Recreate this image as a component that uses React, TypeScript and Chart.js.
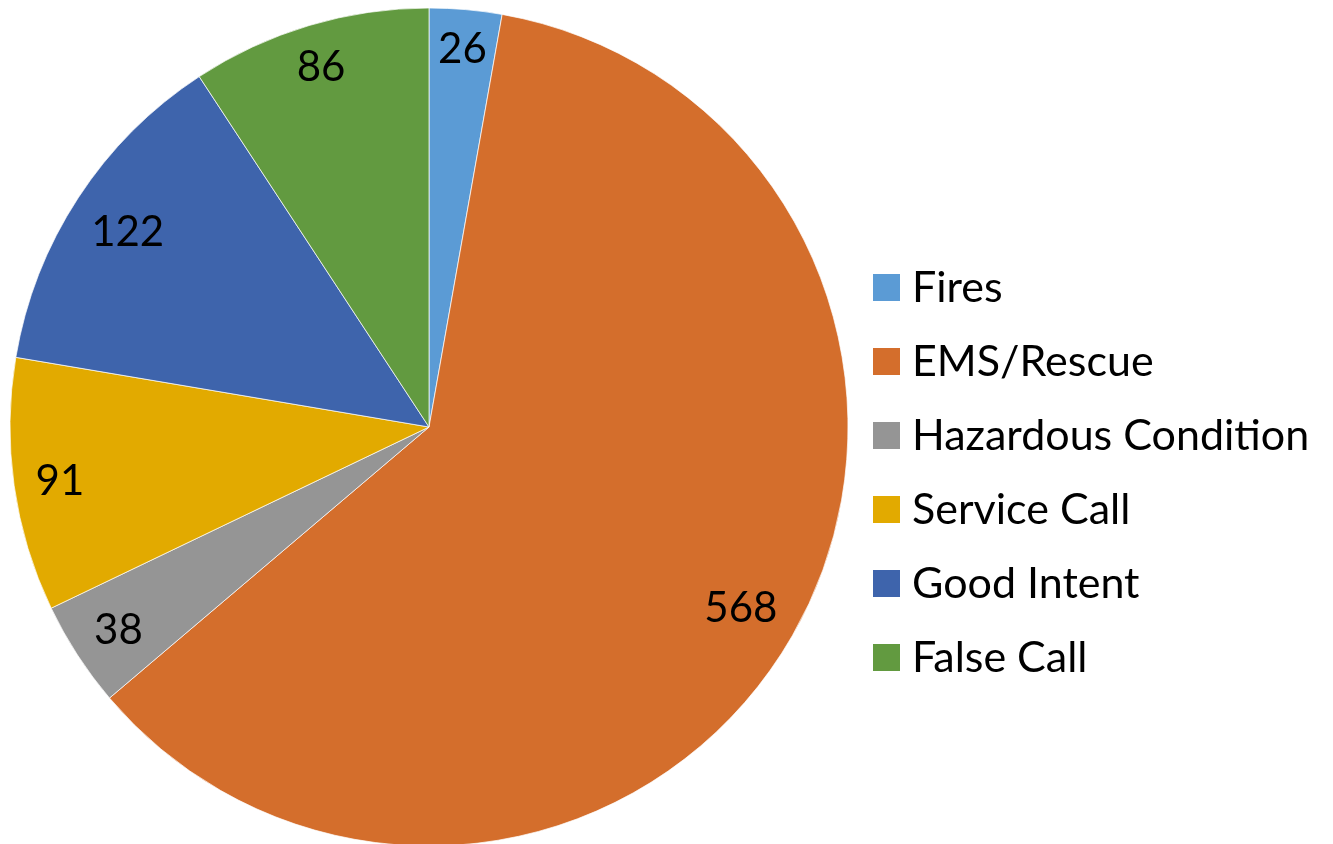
import React, { useEffect, useRef } from "react";
import { Chart, registerables } from "chart.js";

Chart.register(...registerables);

const categories = ["Fires", "EMS/Rescue", "Hazardous Condition", "Service Call", "Good Intent", "False Call"];
const values = [26, 568, 38, 91, 122, 86];
const colors = ["#5B9BD5", "#D46E2C", "#959595", "#E2AA00", "#3E64AC", "#629A40"];

const FONT = "Lato, 'Noto Sans', sans-serif";

const labelPlugin = {
  id: "sliceLabels",
  afterDatasetsDraw(chart: any) {
    const ctx = chart.ctx;
    const meta = chart.getDatasetMeta(0);
    ctx.save();
    ctx.font = `42px ${FONT}`;
    ctx.fillStyle = "#000000";
    ctx.textAlign = "center";
    ctx.textBaseline = "alphabetic";
    meta.data.forEach((arc: any, i: number) => {
      const { x, y, startAngle, endAngle, outerRadius } = arc.getProps(["x", "y", "startAngle", "endAngle", "outerRadius"], true);
      const mid = (startAngle + endAngle) / 2;
      const text = String(values[i]);
      const m = ctx.measureText(text);
      const w = m.width;
      const h = m.actualBoundingBoxAscent;
      const c = Math.cos(mid);
      const s = Math.sin(mid);
      const extent = Math.abs(c) * w / 2 + Math.abs(s) * h / 2;
      const d = outerRadius - 20 - extent;
      const cx = x + c * d;
      const cy = y + s * d;
      ctx.fillText(text, cx, cy + h / 2);
    });
    ctx.restore();
  },
};

const legendPlugin = {
  id: "customLegend",
  afterDraw(chart: any) {
    const ctx = chart.ctx;
    ctx.save();
    ctx.font = `43px ${FONT}`;
    ctx.textAlign = "left";
    ctx.textBaseline = "alphabetic";
    categories.forEach((name, i) => {
      const top = 274 + 74 * i;
      ctx.fillStyle = colors[i];
      ctx.fillRect(873, top, 27, 27);
      ctx.fillStyle = "#000000";
      ctx.fillText(name, 912, top + 28);
    });
    ctx.restore();
  },
};

export default function App() {
  const ref = useRef<HTMLCanvasElement>(null);
  useEffect(() => {
    if (!ref.current) return;
    const chart = new Chart(ref.current, {
      type: "pie",
      data: {
        labels: categories,
        datasets: [
          {
            data: values,
            backgroundColor: colors,
            borderColor: "rgba(255,255,255,0.7)",
            borderWidth: 1,
            radius: 419,
            clip: false,
          } as any,
        ],
      },
      options: {
        responsive: false,
        animation: false,
        layout: { padding: { left: 0, right: 475, top: 10, bottom: 0 } },
        plugins: {
          legend: { display: false },
          tooltip: { enabled: false },
        },
      },
      plugins: [labelPlugin, legendPlugin],
    });
    return () => chart.destroy();
  }, []);
  return (
    <div style={{ position: "fixed", left: 0, top: 0, width: 1333, height: 844, background: "#ffffff" }}>
      <canvas ref={ref} width={1333} height={844} />
    </div>
  );
}
